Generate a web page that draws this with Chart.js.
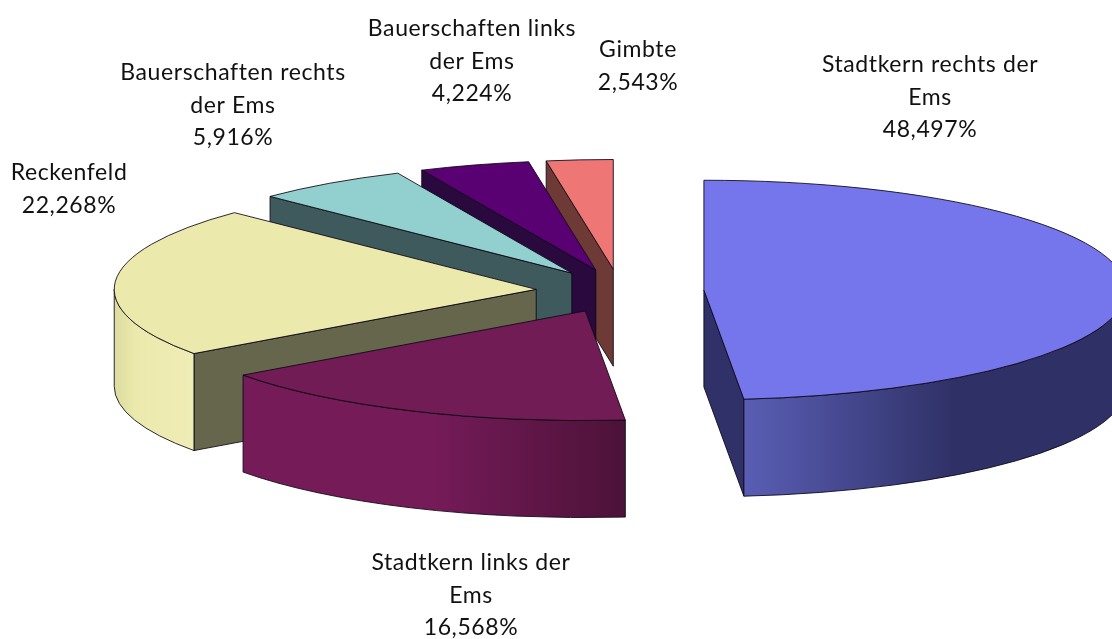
<!DOCTYPE html>
<html lang="de">
<head>
<meta charset="utf-8">
<title>Stadtteile</title>
<script src="https://cdn.jsdelivr.net/npm/chart.js@4"></script>
<style>
  html, body { margin: 0; padding: 0; background: #fff; overflow: hidden; }
  canvas { display: block; }
</style>
</head>
<body>
<canvas id="pie" width="1112" height="639"></canvas>
<script>
// data
const categories = ['Stadtkern rechts der Ems', 'Stadtkern links der Ems', 'Reckenfeld',
    'Bauerschaften rechts der Ems', 'Bauerschaften links der Ems', 'Gimbte'];
const shares = [48.497, 16.568, 22.268, 5.916, 4.224, 2.543];

// how the labels wrap, line by line
const labelLines = [
    ['Stadtkern rechts der', 'Ems'],
    ['Stadtkern links der', 'Ems'],
    ['Reckenfeld'],
    ['Bauerschaften rechts', 'der Ems'],
    ['Bauerschaften links', 'der Ems'],
    ['Gimbte']
];

// styles
const topColors = ['#7575ec', '#721c56', '#ebe9ac', '#92d0cf', '#590072', '#ee7675'];
const cutColors = ['#2f3168', '#4d1238', '#66664c', '#3f5a5d', '#2a0a3e', '#6e3a36'];
const wallStops = [
    [[0, '#5a5eb4'], [0.55, '#2f3166'], [1, '#2f3166']],
    [[0, '#741b58'], [0.5, '#741b58'], [1, '#4c1238']],
    [[0, '#dcdca0'], [0.25, '#ebe9ac'], [1, '#efedb6']],
    [[0, '#3f5a5d'], [1, '#3f5a5d']],
    [[0, '#2a0a3e'], [1, '#2a0a3e']],
    [[0, '#6e3a36'], [1, '#6e3a36']]
];
const labelSpots = [[930, 65], [471, 563], [69, 173], [233, 73], [472, 29], [638, 50]];
const drawOrder = [5, 4, 3, 2, 1, 0];

const TILT = 0.26;
const DEPTH = 97;
const EXPLODE = 84;
const LINE_GAP = 32.5;
const PCT = new Intl.NumberFormat('de-DE', { minimumFractionDigits: 3, maximumFractionDigits: 3 });

function sliceGeometry(el) {
    const mid = (el.startAngle + el.endAngle) / 2;
    return {
        dx: Math.cos(mid) * EXPLODE,
        dy: Math.sin(mid) * EXPLODE * TILT,
        x: el.x + Math.cos(mid) * EXPLODE,
        y: el.y + Math.sin(mid) * EXPLODE * TILT,
        r: el.outerRadius,
        start: el.startAngle,
        end: el.endAngle
    };
}

function drawSides(ctx, g, i) {
    const edge = (a) => [g.x + Math.cos(a) * g.r, g.y + Math.sin(a) * g.r * TILT];

    // cut faces, only the ones turned to the viewer
    const cuts = [];
    if (Math.cos(g.start) < -0.001) cuts.push(g.start);
    if (Math.cos(g.end) > 0.001) cuts.push(g.end);
    cuts.forEach((a) => {
        const [ex, ey] = edge(a);
        ctx.beginPath();
        ctx.moveTo(g.x, g.y);
        ctx.lineTo(ex, ey);
        ctx.lineTo(ex, ey + DEPTH);
        ctx.lineTo(g.x, g.y + DEPTH);
        ctx.closePath();
        ctx.fillStyle = cutColors[i];
        ctx.fill();
        ctx.stroke();
    });

    // rim, the part of the arc on the near side
    const from = Math.max(g.start, 0);
    const to = Math.min(g.end, Math.PI);
    if (to > from) {
        const xs = [edge(from)[0], edge(to)[0]];
        const grad = ctx.createLinearGradient(Math.min(...xs), 0, Math.max(...xs), 0);
        wallStops[i].forEach(([at, color]) => grad.addColorStop(at, color));
        ctx.beginPath();
        ctx.ellipse(g.x, g.y, g.r, g.r * TILT, 0, from, to);
        ctx.ellipse(g.x, g.y + DEPTH, g.r, g.r * TILT, 0, to, from, true);
        ctx.closePath();
        ctx.fillStyle = grad;
        ctx.fill();
        ctx.stroke();
    }
}

// the pie is flattened and given a rim here, slices still come from the arc elements
const tiltedPie = {
    id: 'tiltedPie',
    beforeDatasetDraw(chart, args) {
        const ctx = chart.ctx;
        const arcs = args.meta.data;
        ctx.save();
        ctx.lineWidth = 1;
        ctx.lineJoin = 'round';
        ctx.strokeStyle = 'rgba(10,5,20,0.85)';
        drawOrder.forEach((i) => {
            const el = arcs[i];
            const g = sliceGeometry(el);
            drawSides(ctx, g, i);

            ctx.save();
            ctx.translate(el.x + g.dx, el.y + g.dy);
            ctx.scale(1, TILT);
            ctx.translate(-el.x, -el.y);
            el.draw(ctx);
            ctx.restore();

            ctx.beginPath();
            ctx.moveTo(g.x, g.y);
            ctx.ellipse(g.x, g.y, g.r, g.r * TILT, 0, g.start, g.end);
            ctx.closePath();
            ctx.stroke();
        });
        ctx.restore();
        return false;
    },
    afterDraw(chart) {
        const ctx = chart.ctx;
        ctx.save();
        ctx.font = '23px Lato';
        ctx.letterSpacing = '0.6px';
        ctx.fillStyle = '#111';
        ctx.textAlign = 'center';
        ctx.textBaseline = 'middle';
        categories.forEach((name, i) => {
            const lines = labelLines[i].concat(PCT.format(shares[i]) + '%');
            const [lx, ly] = labelSpots[i];
            lines.forEach((line, n) => ctx.fillText(line, lx, ly + n * LINE_GAP));
        });
        ctx.restore();
    }
};

new Chart(document.getElementById('pie'), {
    type: 'pie',
    data: {
        labels: categories,
        datasets: [{
            data: shares,
            backgroundColor: topColors,
            borderWidth: 0,
            radius: 422
        }]
    },
    options: {
        responsive: false,
        animation: false,
        layout: { padding: { left: 128, bottom: 57 } },
        plugins: {
            legend: { display: false },
            tooltip: { enabled: false }
        }
    },
    plugins: [tiltedPie]
});
</script>
</body>
</html>
